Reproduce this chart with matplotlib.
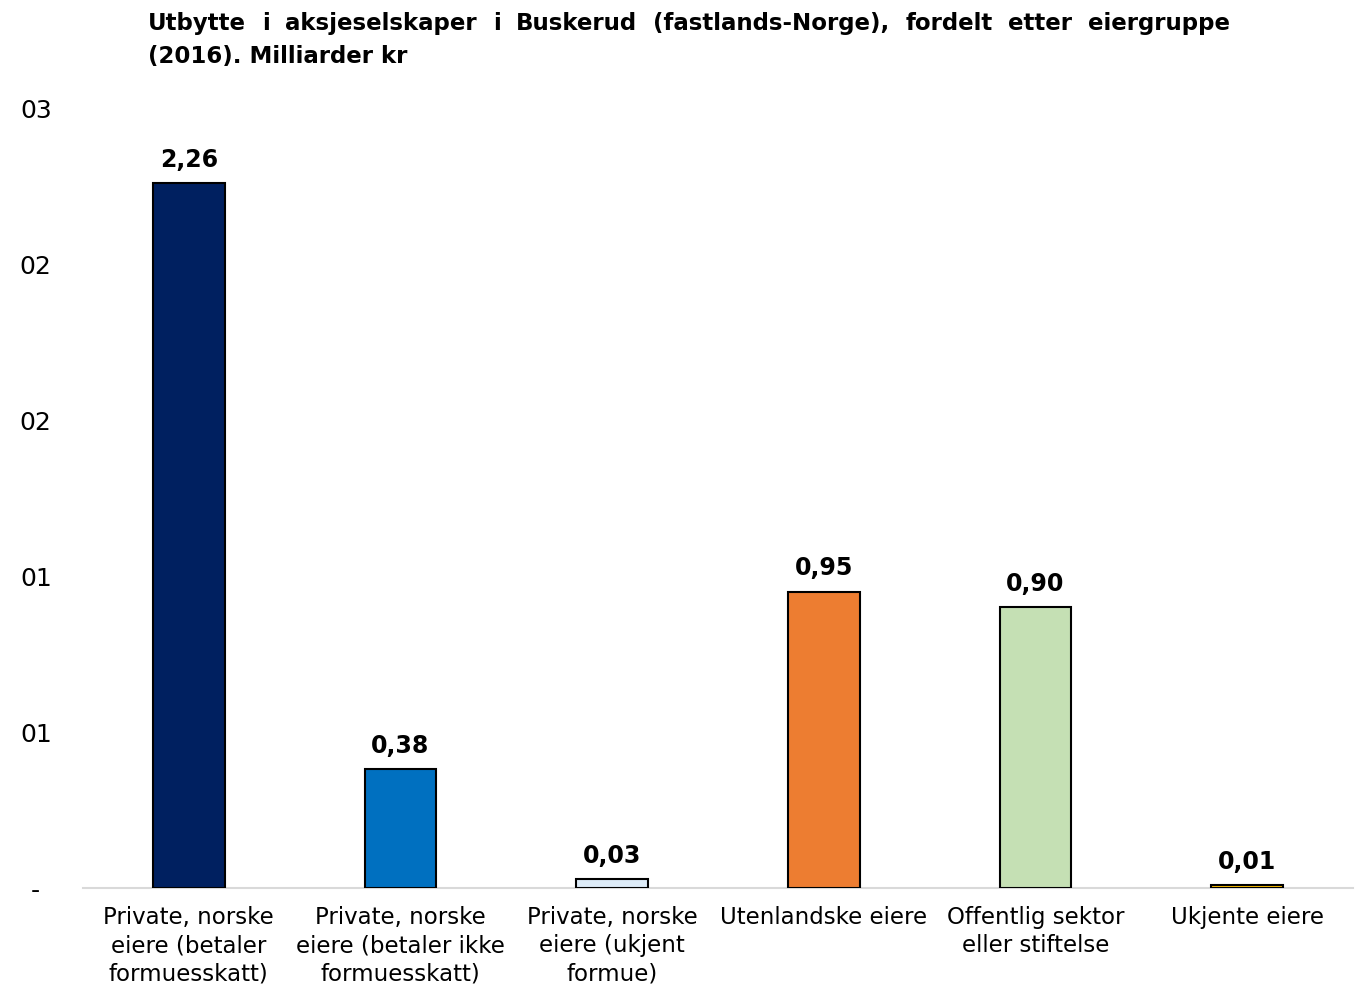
import matplotlib
matplotlib.use("Agg")
import matplotlib.pyplot as plt

categories = [
    "Private, norske\neiere (betaler\nformuesskatt)",
    "Private, norske\neiere (betaler ikke\nformuesskatt)",
    "Private, norske\neiere (ukjent\nformue)",
    "Utenlandske eiere",
    "Offentlig sektor\neller stiftelse",
    "Ukjente eiere",
]
values = [2.26, 0.38, 0.03, 0.95, 0.90, 0.01]
value_labels = ["2,26", "0,38", "0,03", "0,95", "0,90", "0,01"]
colors = ["#002060", "#0070C0", "#DDEBF7", "#ED7D31", "#C5E0B4", "#FFC000"]
yticks = [0, 0.5, 1.0, 1.5, 2.0, 2.5]
ytick_labels = ["-", "01", "01", "02", "02", "03"]
title_line1 = "Utbytte i aksjeselskaper i Buskerud (fastlands-Norge), fordelt etter eiergruppe"
title_line2 = "(2016). Milliarder kr"

FONT = "DejaVu Sans"
plt.rcParams["font.family"] = [FONT]

W, H = 1355, 990
fig = plt.figure(figsize=(W / 100, H / 100), dpi=100)
ax = fig.add_axes([83 / W, (H - 888) / H, (1353 - 83) / W, (888 - 108) / H])

x = list(range(len(categories)))
bars = ax.bar(x, values, width=0.34, color=colors, edgecolor="black", linewidth=1.5, zorder=3)
ax.set_xlim(-0.5, len(categories) - 0.5)
ax.set_ylim(0, 2.5)

for xi, v, lab in zip(x, values, value_labels):
    ax.annotate(lab, (xi, v), xytext=(0, 8), textcoords="offset points",
                ha="center", va="bottom", fontsize=17, fontweight="bold", color="black")

ax.set_xticks(x)
ax.set_xticklabels(categories, fontsize=16.5, linespacing=1.3)
ax.set_yticks(yticks)
ax.set_yticklabels(ytick_labels, fontsize=18, ha="center")
ax.tick_params(axis="x", length=0, pad=13)
ax.tick_params(axis="y", length=0, pad=34)

for s in ["top", "right", "left"]:
    ax.spines[s].set_visible(False)
ax.spines["bottom"].set_color("#D9D9D9")
ax.spines["bottom"].set_linewidth(1.5)

# Justified title
renderer = fig.canvas.get_renderer()
words = title_line1.split(" ")
x0, x1 = 148, 1230
y1 = H - 30
y2 = H - 63
texts = []
for w in words:
    t = fig.text(0, y1 / H, w, fontsize=16.5, fontweight="bold", ha="left", va="baseline")
    texts.append(t)
widths = [t.get_window_extent(renderer).width for t in texts]
gap = (x1 - x0 - sum(widths)) / (len(words) - 1)
cx = x0
for t, wd in zip(texts, widths):
    t.set_x(cx / W)
    cx += wd + gap
fig.text(x0 / W, y2 / H, title_line2, fontsize=16.5, fontweight="bold", ha="left", va="baseline")

fig.savefig("out.png", dpi=100)
